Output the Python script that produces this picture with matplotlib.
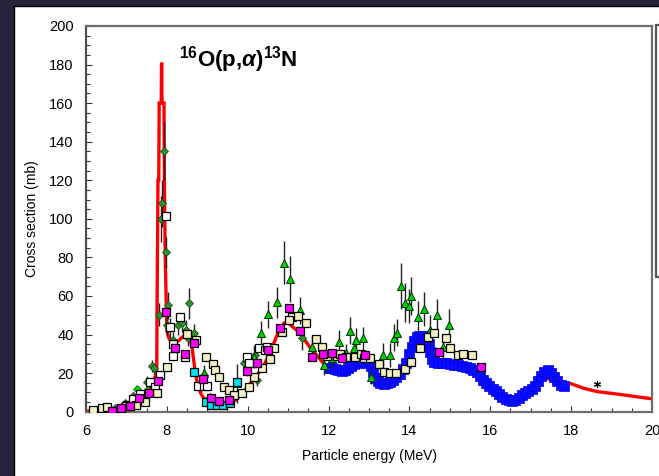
import matplotlib
matplotlib.use("Agg")
import matplotlib.pyplot as plt
from matplotlib.patches import Rectangle
from matplotlib.ticker import MultipleLocator

plt.rcParams['font.family'] = ['Liberation Sans', 'DejaVu Sans']
plt.rcParams['mathtext.fontset'] = 'custom'
plt.rcParams['mathtext.rm'] = 'Liberation Sans'
plt.rcParams['mathtext.bf'] = 'Liberation Sans:bold'
plt.rcParams['mathtext.it'] = 'Liberation Sans:italic:bold'

# ---------------- data ----------------
title = r'$\mathbf{^{16}O(p{,}}\mathit{\alpha}\mathbf{)^{13}N}$'
xlabel = 'Particle energy (MeV)'
ylabel = 'Cross section (mb)'
xticks = [6, 8, 10, 12, 14, 16, 18, 20]
yticks = [0, 20, 40, 60, 80, 100, 120, 140, 160, 180, 200]

# theoretical curve (red)
red_E = [6.0, 6.5, 7.0, 7.3, 7.5, 7.65, 7.74, 7.75, 7.76, 7.78, 7.80, 7.81, 7.86, 7.87,
         7.88, 7.93, 7.94, 7.96, 8.0, 8.05, 8.15, 8.3, 8.45, 8.55, 8.62, 8.68, 8.75,
         8.85, 8.95, 9.1, 9.4, 9.7, 9.85, 10.0, 10.2, 10.4, 10.6, 10.75, 10.9, 11.0,
         11.3, 11.55, 11.88, 12.13, 12.4, 12.55, 12.85, 13.05, 13.2, 13.4, 13.6, 13.85,
         14.0, 14.2, 14.35, 14.5, 14.6, 14.85, 15.2, 15.5, 15.7, 15.85, 16.0, 16.25,
         16.5, 16.7, 16.85, 17.1, 17.25, 17.41, 17.55, 17.75, 18.0, 18.3, 18.65, 19.0,
         19.3, 19.6, 20.0]
red_S = [0.3, 0.8, 2.5, 5, 9, 14, 20, 24, 60, 120, 120, 160, 160, 181,
         160, 160, 117, 80, 42, 38, 35, 37, 40, 39, 34, 24, 15,
         9, 6, 4.5, 4, 6, 9, 13, 18, 24, 33, 41, 46, 46,
         40.6, 33, 25, 22.5, 21.5, 23, 25.5, 24, 17, 15, 16.5, 22,
         30, 35, 36, 33, 27, 25, 24.5, 22.5, 20, 16, 13, 9,
         6.5, 6.5, 9, 12.5, 16, 17.3, 16, 15.5, 14.5, 12.2, 10.4, 9.5,
         8.7, 7.8, 6.7]

# dense measured data (blue)
blue_E = [12.00, 12.08, 12.16, 12.24, 12.32, 12.40, 12.48, 12.56, 12.64, 12.72, 12.80,
          12.88, 12.96, 13.04, 13.10, 13.16, 13.22, 13.28, 13.36, 13.44, 13.52, 13.60,
          13.68, 13.76, 13.84, 13.92, 14.00, 14.06, 14.12, 14.18, 14.24, 14.30, 14.36,
          14.42, 14.48, 14.52, 14.56, 14.62, 14.70, 14.80, 14.90, 15.00, 15.10, 15.20,
          15.30, 15.40, 15.50, 15.58, 15.66, 15.74, 15.82, 15.90, 15.98, 16.06, 16.14,
          16.22, 16.30, 16.38, 16.46, 16.54, 16.62, 16.70, 16.78, 16.86, 16.94, 17.02,
          17.10, 17.18, 17.26, 17.34, 17.42, 17.50, 17.58, 17.66, 17.74, 17.82]
blue_S = [22.5, 22.8, 22.0, 21.5, 21.3, 21.8, 22.8, 23.5, 24.5, 25.5, 26.0,
          26.0, 25.0, 23.5, 20.5, 17.5, 16.0, 15.0, 14.5, 14.8, 15.5, 16.5,
          18.0, 19.5, 22.0, 25.5, 30.0, 33.5, 36.5, 38.5, 39.5, 39.5, 39.0,
          37.5, 35.0, 31.0, 27.5, 26.0, 25.5, 25.0, 25.0, 24.5, 24.2, 24.0,
          23.5, 23.0, 22.5, 21.5, 20.5, 18.5, 16.5, 15.0, 13.5, 12.0, 10.5,
          9.0, 7.8, 6.8, 6.0, 5.8, 6.0, 7.0, 8.5, 9.5, 10.5, 12.0,
          13.5, 16.0, 18.5, 20.5, 21.5, 20.0, 18.0, 16.0, 14.0, 13.3]

# green triangles
tri_E = [8.92, 9.73, 10.15, 10.34, 10.5, 10.72, 10.89, 11.05, 11.3, 11.58, 11.88,
         12.09, 12.25, 12.42, 12.54, 12.62, 12.69, 12.85, 13.04, 13.34, 13.52, 13.61,
         13.7, 13.8, 13.88, 13.99, 14.03, 14.21, 14.36, 14.52, 14.67, 14.84, 14.98]
tri_S = [20, 14.7, 28.5, 41, 50.5, 56.7, 77.3, 68.7, 52.7, 33.7, 24,
         27.7, 36.3, 30.3, 42, 32.9, 37.2, 38, 18.2, 29.4, 29.4, 38.4,
         41, 65.2, 56.5, 54.8, 60, 49.3, 53.3, 42.4, 50.2, 33.7, 45]
tri_err = [4, 10, 6, 6, 7, 8, 11, 12, 7, 6, 5,
           5, 6, 5, 7, 5, 6, 6, 4, 6, 6, 7,
           7, 12, 10, 9, 10, 8, 9, 8, 8, 6, 8]

# dark green diamonds
dia_E = [6.72, 6.97, 7.17, 7.5, 7.63, 7.68, 7.81, 7.86, 7.87, 7.92, 7.97, 8.0,
         8.04, 8.08, 8.16, 8.27, 8.37, 8.47, 8.53, 8.56, 8.66, 8.91, 9.07, 9.9,
         9.98, 10.19, 10.23, 11.35]
dia_S = [1.7, 4.7, 8.1, 15.6, 23.7, 22.5, 50.2, 99.8, 108, 135.2, 82.7, 45,
         55.3, 43.4, 37.2, 45, 46.2, 42.4, 38, 56.2, 40.7, 19, 7.8, 25,
         22.5, 29.4, 16.4, 38]
dia_err = [1, 1, 2, 3, 3, 3, 6, 12, 12, 15, 8, 5,
           7, 5, 4, 5, 5, 5, 4, 8, 5, 3, 2, 4,
           4, 5, 3, 6]

# bright green diamonds
lg_E = [6.5, 7.27, 7.52]
lg_S = [0.3, 12, 11]

# white squares
wht_E = [7.01, 7.17, 7.34, 7.59, 7.71, 7.83, 7.97, 8.08, 8.16, 8.33, 8.45, 8.78,
         8.91, 8.99, 9.98, 10.02, 10.27, 10.43, 10.47, 11.1]
wht_S = [3.5, 6.4, 9.2, 15.2, 13, 19, 101.4, 43.8, 28.9, 49.3, 28.5, 13.5,
         13.5, 13.5, 28.5, 25.4, 32.9, 32, 33.7, 49.3]

# cream squares
crm_E = [6.18, 6.39, 6.53, 6.99, 7.24, 7.45, 7.75, 8.0, 8.15, 8.51, 8.72, 8.97,
         9.13, 9.2, 9.3, 9.42, 9.53, 9.65, 9.86, 10.02, 10.16, 10.35, 10.54, 10.64,
         10.85, 11.03, 11.24, 11.43, 11.68, 11.84, 11.95, 12.21, 12.28, 12.44, 12.66,
         12.81, 12.87, 13.02, 13.24, 13.38, 13.52, 13.66, 13.88, 14.04, 14.26, 14.46,
         14.62, 14.9, 15.0, 15.21, 15.33, 15.56]
crm_S = [0.9, 1.7, 2.3, 3.1, 3.5, 4.9, 9.5, 23.3, 35.1, 40.3, 37.2, 28.5,
         24.6, 21.6, 18.2, 12.7, 11.3, 8.7, 9.9, 13, 18.2, 22.8, 27.2, 32.9,
         41.5, 47.6, 49.6, 46.2, 37.5, 33.4, 29, 28.9, 29.8, 28.2, 28.5,
         29.9, 27.7, 27.7, 24.7, 20.7, 19.9, 19.9, 22, 25.9, 32.9, 38.9,
         41, 38, 32.9, 29.4, 29.9, 29.4]

# magenta squares
mag_E = [6.64, 6.86, 7.09, 7.32, 7.55, 7.77, 7.97, 8.2, 8.44, 8.66, 8.89, 9.09,
         9.3, 9.53, 9.98, 10.23, 10.5, 10.79, 11.01, 11.3, 11.59, 11.86, 12.09,
         12.34, 12.91, 14.73, 15.78]
mag_S = [0.2, 1.7, 3.1, 6.9, 9.9, 16.1, 51.9, 32.9, 29.8, 35.5, 17, 6.9,
         5.5, 6.1, 21.1, 25.1, 32, 43.6, 53.9, 42, 28.2, 29.8, 30.3,
         27.7, 29.4, 31.1, 23]

# cyan squares
cyn_E = [8.66, 8.97, 9.09, 9.24, 9.39, 9.57, 9.73]
cyn_S = [20.4, 4.9, 3.5, 3.5, 3.5, 4.7, 15.6]

# single point (star)
star_E = [18.63]
star_S = [14.2]

# ---------------- figure ----------------
W, H = 659, 476
fig = plt.figure(figsize=(W / 100, H / 100), dpi=100, facecolor='#27233a')
# white panel behind everything
fig.patches.append(Rectangle((14 / W, -0.01), 1.0, 1 - 6 / H + 0.01,
                             transform=fig.transFigure, facecolor='white',
                             edgecolor='black', lw=1.0, zorder=-5))

ax = fig.add_axes([86 / W, 1 - 411.7 / H, (652 - 86) / W, (411.7 - 26) / H])
ax.set_zorder(2)
ax.set_xlim(6, 20)
ax.set_ylim(0, 200)

ax.plot(red_E, red_S, color='#ff0000', lw=2.4, zorder=2, solid_joinstyle='miter')
ax.plot(blue_E, blue_S, ls='none', marker='s', ms=6.5, mfc='#0a0aff', mec='#0000ee',
        mew=0.5, zorder=3)

ekw = dict(ecolor='#222222', elinewidth=1.0, capsize=0, ls='none', zorder=4)
ax.errorbar(dia_E, dia_S, yerr=dia_err, marker='D', ms=4.5, mfc='#2f8f2f', mec='#1a4d1a',
            mew=0.6, **ekw)
ax.plot(lg_E, lg_S, ls='none', marker='D', ms=4.5, mfc='#00dd00', mec='#007700',
        mew=0.6, zorder=4)
ax.plot(wht_E, wht_S, ls='none', marker='s', ms=5.2, mfc='white', mec='black', mew=0.9,
        zorder=5)
ax.plot(crm_E, crm_S, ls='none', marker='s', ms=5.5, mfc='#f2efc2', mec='black', mew=0.9,
        zorder=5)
ax.plot(cyn_E, cyn_S, ls='none', marker='s', ms=5.5, mfc='#00e0f0', mec='black', mew=0.9,
        zorder=5)
ax.plot(mag_E, mag_S, ls='none', marker='s', ms=5.2, mfc='#ff00ff', mec='black', mew=0.9,
        zorder=6)
ax.errorbar(tri_E, tri_S, yerr=tri_err, marker='^', ms=5.8, mfc='#00d000', mec='#003300',
            mew=0.7, **ekw)
ax.plot(star_E, star_S, ls='none', marker=(6, 2, 0), ms=5, color='black', mew=0.8,
        zorder=6)

ax.text(8.3, 179, title, fontsize=16, ha='left', va='baseline', color='black')

# axes styling
for s in ax.spines.values():
    s.set_color('#6e6e6e')
    s.set_linewidth(1.6)
ax.spines['left'].set_color('#505050')
ax.set_xticks(xticks)
ax.set_yticks(yticks)
ax.xaxis.set_minor_locator(MultipleLocator(0.5))
ax.yaxis.set_minor_locator(MultipleLocator(5))
ax.tick_params(which='both', direction='in', color='#333333', width=0.8,
               labelsize=10.5, top=False, right=False)
ax.tick_params(which='major', length=4)
ax.tick_params(which='minor', length=3)
ax.tick_params(axis='y', pad=9)
ax.tick_params(axis='x', pad=9)
ax.set_xlabel(xlabel, fontsize=10, labelpad=8)
ax.set_ylabel(ylabel, fontsize=10)
ax.yaxis.set_label_coords(-0.083, 0.5)

# legend box edge (cut off at the right)
fig.patches.append(Rectangle((656 / W, 1 - 277 / H), 0.1, (277 - 25) / H,
                             transform=fig.transFigure, facecolor='white',
                             edgecolor='#555555', lw=1.6, zorder=1))

fig.savefig('out.png', dpi=100, facecolor=fig.get_facecolor())
